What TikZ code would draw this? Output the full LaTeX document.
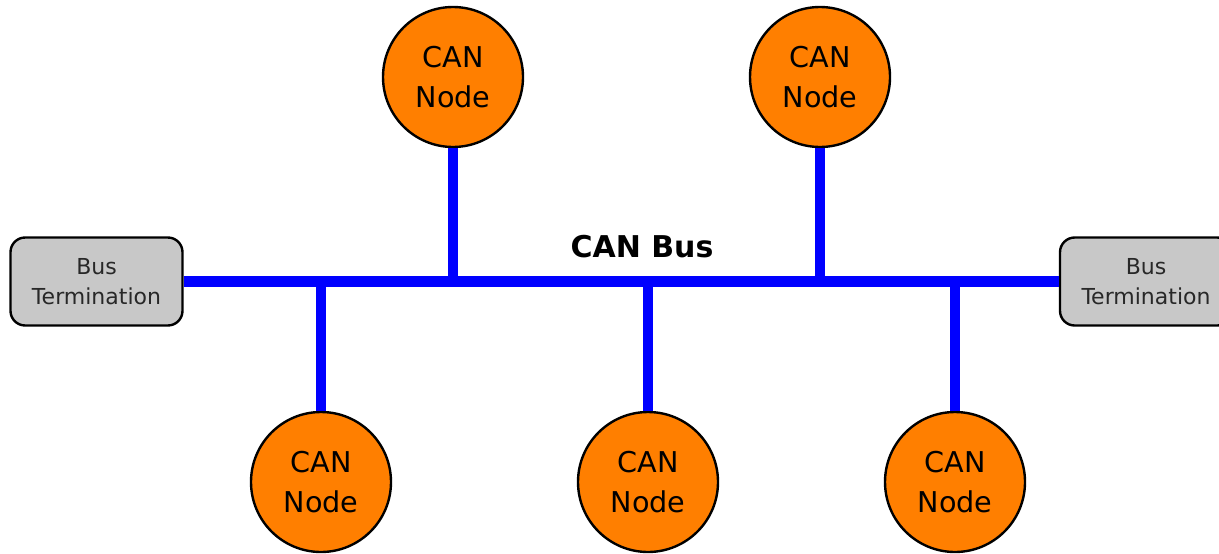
\documentclass[tikz,border=0pt]{standalone}
\usepackage{fontspec}
\setmainfont{DejaVu Sans}
\definecolor{canorange}{RGB}{255,127,0}
\definecolor{busblue}{RGB}{0,0,255}
\definecolor{termgray}{RGB}{200,200,200}
\definecolor{termtext}{RGB}{40,40,40}
\tikzset{
  cannode/.style={circle, draw=black, line width=1.8pt, fill=canorange, minimum size=105pt, inner sep=0pt, align=center, font=\fontsize{21.5}{29.5}\selectfont},
  termbox/.style={draw=black, line width=1.8pt, fill=termgray, rounded corners=11pt, minimum width=129pt, minimum height=66pt, inner sep=0pt, align=center, text=termtext, font=\fontsize{16.5}{22.5}\selectfont},
  buswire/.style={busblue, line width=7.8pt},
}
\begin{document}
\begin{tikzpicture}[x=0.75pt, y=-0.75pt]
\useasboundingbox (0,0) rectangle (1219,553);
% bus terminations
\node[termbox] (tl) at (96.5,281.5) {Bus\\Termination};
\node[termbox] (tr) at (1146,281.5) {Bus\\Termination};
% bus tap points
\coordinate (b1) at (453,280);
\coordinate (b2) at (820,280);
\coordinate (b3) at (321,280);
\coordinate (b4) at (648,280);
\coordinate (b5) at (955,280);
% CAN nodes
\node[cannode] (n1) at (453,77) {CAN\\Node};
\node[cannode] (n2) at (820,77) {CAN\\Node};
\node[cannode] (n3) at (321,482) {CAN\\Node};
\node[cannode] (n4) at (648,482) {CAN\\Node};
\node[cannode] (n5) at (955,482) {CAN\\Node};
% wires
\draw[buswire] (tl.east) -- (tr.west);
\draw[buswire] (n1.south) -- (b1);
\draw[buswire] (n2.south) -- (b2);
\draw[buswire] (n3.north) -- (b3);
\draw[buswire] (n4.north) -- (b4);
\draw[buswire] (n5.north) -- (b5);
% label
\node[font=\fontsize{22.5}{27}\selectfont\bfseries] (lbl) at (642,247) {CAN Bus};
\end{tikzpicture}
\end{document}
